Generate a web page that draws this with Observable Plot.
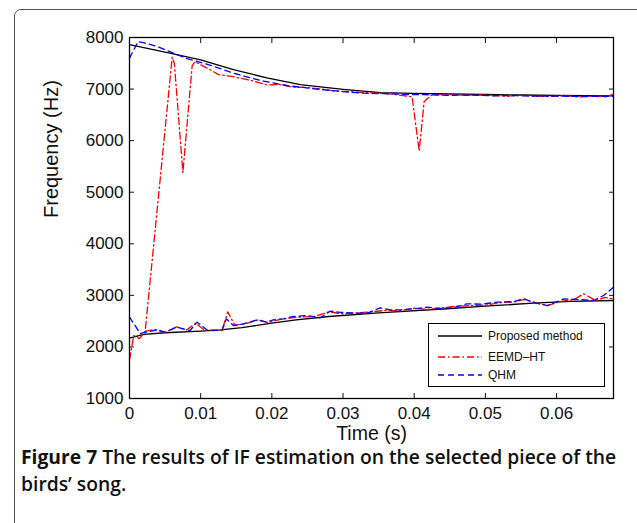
<!DOCTYPE html>
<html>
<head>
<meta charset="utf-8">
<script src="https://cdn.jsdelivr.net/npm/d3@7"></script>
<script src="https://cdn.jsdelivr.net/npm/@observablehq/plot@0.6"></script>
<style>
  body { margin: 0; background: #fff; }
  #wrap { position: relative; width: 637px; height: 523px; overflow: hidden; background: #fff;
          font-family: "Liberation Sans", Arial, sans-serif; }
  #border { position: absolute; left: 14px; top: 9px; width: 640px; height: 640px;
            border: 1px solid #555; border-radius: 7px; box-sizing: border-box; }
  #chart { position: absolute; left: 0; top: 0; }
  #legend { position: absolute; left: 428px; top: 323px; width: 177px; height: 64px;
            border: 1.3px solid #000; background: #fff; box-sizing: border-box; font-size: 12px; }
  #legend .row { position: absolute; left: 8px; height: 14px; display: flex; align-items: center; }
  #legend .row span { margin-left: 5px; color: #111; }
  .cap { position: absolute; left: 21px; font-family: "Open Sans", sans-serif; white-space: nowrap;
         font-size: 19.3px; line-height: 17px; color: #111; font-weight: 600; }
  .cap b { font-weight: 700; }
</style>
</head>
<body>
<div id="wrap">
  <div id="border"></div>
  <div id="chart"></div>
  <div id="legend"></div>
  <div class="cap" style="top:448px"><b>Figure 7</b> The results of IF estimation on the selected piece of the</div>
  <div class="cap" style="top:475px">birds’ song.</div>
</div>
<script>
// Axis ticks
const xTicks = [0, 0.01, 0.02, 0.03, 0.04, 0.05, 0.06];
const yTicks = [1000, 2000, 3000, 4000, 5000, 6000, 7000, 8000];

// Proposed method: upper and lower IF tracks
const pmUpperT = [0, 0.005, 0.01, 0.0146, 0.0193, 0.024, 0.03, 0.0353, 0.04, 0.045, 0.05, 0.055, 0.06, 0.068];
const pmUpperF = [7860, 7715, 7567, 7375, 7218, 7085, 6995, 6930, 6915, 6905, 6895, 6885, 6878, 6870];
const pmLowerT = [0, 0.002, 0.005, 0.01, 0.0128, 0.0158, 0.017, 0.02, 0.0234, 0.028, 0.035, 0.0446, 0.05, 0.0567, 0.062, 0.068];
const pmLowerF = [2170, 2245, 2275, 2305, 2330, 2375, 2400, 2460, 2526, 2590, 2660, 2740, 2790, 2848, 2885, 2900];

// EEMD-HT: first track starts low, jumps to the upper component
const eeUpperT = [0, 0.0006, 0.0014, 0.0022, 0.006, 0.0063, 0.0075, 0.0088, 0.0092, 0.011, 0.0125, 0.0146, 0.017, 0.0193,
  0.021, 0.0228, 0.025, 0.027, 0.029, 0.031, 0.033, 0.035, 0.037, 0.0397, 0.0407, 0.0414, 0.0425, 0.045, 0.047, 0.049,
  0.051, 0.053, 0.055, 0.057, 0.059, 0.061, 0.063, 0.065, 0.067, 0.068];
const eeUpperF = [1750, 2220, 2160, 2300, 7620, 7500, 5380, 7450, 7530, 7400, 7280, 7240, 7170, 7080,
  7090, 7040, 7030, 7000, 6960, 6950, 6930, 6920, 6900, 6850, 5800, 6760, 6890, 6895, 6880, 6885,
  6875, 6860, 6880, 6860, 6855, 6870, 6850, 6860, 6850, 6900];
const eeLowerT = [0.0022, 0.0035, 0.005, 0.0066, 0.008, 0.0093, 0.0105, 0.012, 0.013, 0.0138, 0.0148, 0.016, 0.018, 0.0195,
  0.021, 0.0225, 0.024, 0.026, 0.028, 0.03, 0.032, 0.034, 0.036, 0.038, 0.04, 0.042, 0.044, 0.046, 0.048, 0.05,
  0.052, 0.054, 0.0555, 0.057, 0.0587, 0.0605, 0.0625, 0.0638, 0.0655, 0.0668, 0.068];
const eeLowerF = [2300, 2340, 2280, 2390, 2330, 2460, 2330, 2320, 2320, 2680, 2420, 2440, 2520, 2470,
  2530, 2560, 2580, 2590, 2680, 2640, 2660, 2680, 2710, 2700, 2750, 2730, 2760, 2790, 2800, 2810,
  2860, 2870, 2920, 2860, 2800, 2880, 2920, 3030, 2900, 2960, 2930];

// QHM
const qhUpperT = [0, 0.0012, 0.0025, 0.004, 0.0058, 0.0081, 0.0115, 0.0146, 0.0184, 0.0221, 0.024, 0.027, 0.03, 0.033,
  0.036, 0.039, 0.042, 0.045, 0.048, 0.051, 0.054, 0.057, 0.06, 0.063, 0.066, 0.068];
const qhUpperF = [7600, 7920, 7880, 7820, 7716, 7590, 7457, 7308, 7166, 7069, 7036, 6990, 6950, 6920,
  6910, 6895, 6890, 6880, 6885, 6870, 6875, 6862, 6865, 6858, 6860, 6862];
const qhLowerT = [0, 0.0015, 0.0029, 0.0039, 0.005, 0.0066, 0.0085, 0.0095, 0.011, 0.013, 0.0136, 0.0146, 0.016, 0.018,
  0.0193, 0.0202, 0.0216, 0.023, 0.0249, 0.0268, 0.0282, 0.0296, 0.032, 0.0335, 0.0352, 0.0366, 0.0381, 0.04,
  0.0418, 0.0436, 0.0455, 0.0474, 0.0495, 0.0516, 0.054, 0.0554, 0.0567, 0.0587, 0.061, 0.063, 0.0652, 0.0666, 0.068];
const qhLowerF = [2580, 2260, 2300, 2330, 2285, 2383, 2318, 2480, 2318, 2320, 2545, 2415, 2448, 2526,
  2480, 2526, 2545, 2590, 2610, 2565, 2693, 2670, 2655, 2660, 2758, 2720, 2720, 2740,
  2770, 2745, 2760, 2835, 2830, 2867, 2880, 2933, 2867, 2800, 2930, 2920, 2900, 2997, 3158];

const methods = ["Proposed method", "EEMD\u2013HT", "QHM"];
const styles = {
  "Proposed method": { stroke: "#000", dash: null },
  "EEMD\u2013HT": { stroke: "#ff0000", dash: "7,3,1.5,3" },
  "QHM": { stroke: "#0000ff", dash: "6,4" }
};

function track(method, part, T, F) {
  return T.map((t, i) => ({ method, part, t, f: F[i] }));
}
const pmData = [...track(methods[0], "up", pmUpperT, pmUpperF), ...track(methods[0], "low", pmLowerT, pmLowerF)];
const eeData = [...track(methods[1], "up", eeUpperT, eeUpperF), ...track(methods[1], "low", eeLowerT, eeLowerF)];
const qhData = [...track(methods[2], "up", qhUpperT, qhUpperF), ...track(methods[2], "low", qhLowerT, qhLowerF)];

const fmt = d => String(d);

const chart = Plot.plot({
  width: 637,
  height: 450,
  marginLeft: 129,
  marginRight: 24,
  marginTop: 37,
  marginBottom: 52,
  style: { fontFamily: "Liberation Sans, Arial, sans-serif", fontSize: "17px", background: "transparent", color: "#111" },
  x: { domain: [0, 0.068] },
  y: { domain: [1000, 8000] },
  marks: [
    Plot.line(pmData, { x: "t", y: "f", z: "part", stroke: styles[methods[0]].stroke, strokeWidth: 1.3 }),
    Plot.line(eeData, { x: "t", y: "f", z: "part", stroke: styles[methods[1]].stroke, strokeWidth: 1.3, strokeDasharray: styles[methods[1]].dash }),
    Plot.line(qhData, { x: "t", y: "f", z: "part", stroke: styles[methods[2]].stroke, strokeWidth: 1.3, strokeDasharray: styles[methods[2]].dash }),
    Plot.frame({ stroke: "#000", strokeWidth: 1.3 }),
    Plot.axisX({ ticks: xTicks, anchor: "bottom", tickSize: -5, tickPadding: 13, tickFormat: fmt, label: null }),
    Plot.axisX({ ticks: xTicks, anchor: "top", tickSize: -5, tickFormat: () => "", label: null }),
    Plot.axisY({ ticks: yTicks, anchor: "left", tickSize: -5, tickPadding: 11, tickFormat: fmt, label: null }),
    Plot.axisY({ ticks: yTicks, anchor: "right", tickSize: -5, tickFormat: () => "", label: null }),
    Plot.text(["Time (s)"], { frameAnchor: "bottom", dy: 35, lineAnchor: "middle", fontSize: 19.5 }),
    Plot.text(["Frequency (Hz)"], { frameAnchor: "left", dx: -78, rotate: -90, lineAnchor: "middle", fontSize: 20 })
  ]
});
document.getElementById("chart").appendChild(chart);

// Legend box inside the axes
const legend = document.getElementById("legend");
const rowTops = [5, 25.7, 44.3];
methods.forEach((m, i) => {
  const row = document.createElement("div");
  row.className = "row";
  row.style.top = rowTops[i] + "px";
  const s = styles[m];
  row.innerHTML = `<svg width="46" height="10"><line x1="1" y1="5" x2="45" y2="5" stroke="${s.stroke}" stroke-width="1.3"${s.dash ? ` stroke-dasharray="${s.dash}"` : ""}/></svg><span>${m}</span>`;
  legend.appendChild(row);
});
</script>
</body>
</html>
